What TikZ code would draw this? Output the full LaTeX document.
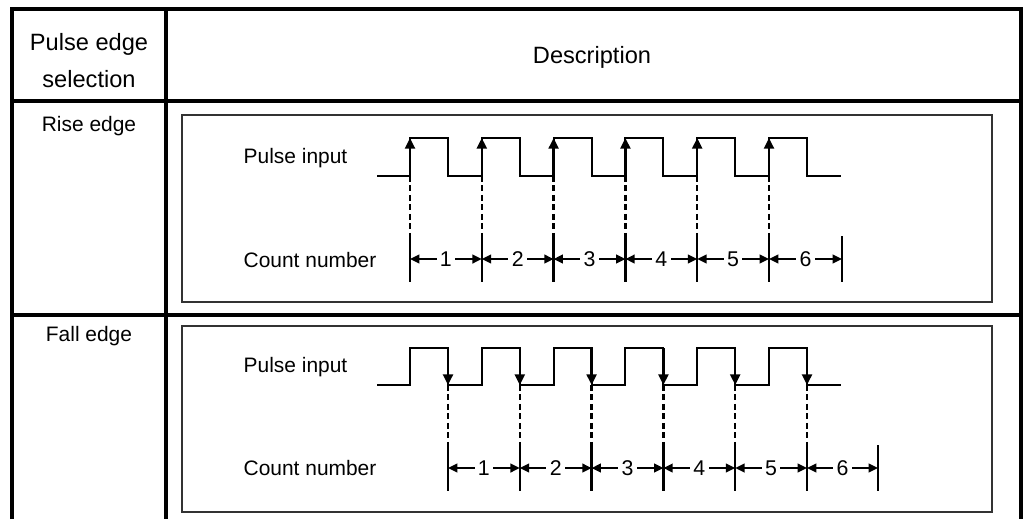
\documentclass[tikz,border=0pt]{standalone}
\usepackage{fontspec}
\setmainfont{Liberation Sans}
\usetikzlibrary{arrows.meta}

\tikzset{
  frame/.style={line width=3.4pt},
  rule/.style={line width=2.4pt},
  panel/.style={draw=black!80,line width=1.2pt},
  wave/.style={line width=1.6pt},
  edge/.style={line width=1.7pt,-{Triangle[length=8pt,width=7.5pt]}},
  guide/.style={line width=1.8pt,dash pattern=on 4.5pt off 2.6pt},
  tick/.style={line width=1.8pt},
  span/.style={line width=1.5pt,{Triangle[length=7pt,width=6.5pt]}-{Triangle[length=7pt,width=6.5pt]}},
  head/.style={font=\fontsize{17.7}{27.7}\selectfont,align=center},
  txt/.style={font=\fontsize{15.7}{18}\selectfont},
  num/.style={font=\fontsize{16}{18}\selectfont,fill=white,inner xsep=2.5pt,inner ysep=0pt}
}

\begin{document}
\begin{tikzpicture}[x=0.75pt,y=-0.75pt]
\useasboundingbox (0,0) rectangle (1027,519);

% table
\draw[frame] (12,519) -- (12,9) -- (1021,9) -- (1021,519);
\draw[line width=3pt] (12,101) -- (1021,101);
\draw[rule] (12,315) -- (1021,315);
\draw[rule] (166,9) -- (166,519);
\node[head] (hsel) at (89,61) {Pulse edge\\selection};
\node[head] (hdesc) at (592,57) {Description};
\node[txt] (rise) at (89,126) {Rise edge};
\node[txt] (fall) at (89,336) {Fall edge};

% rise edge panel
\draw[panel] (182,115) rectangle (992,302);
\node[txt,anchor=west] (rin) at (239,158) {Pulse input};
\node[txt,anchor=west] (rcnt) at (239,260) {Count number};
\draw[wave] (377,176) \foreach \k in {0,...,5} {
  -- ({410+71.8*\k},176) -- ({410+71.8*\k},138)
  -- ({448+71.8*\k},138) -- ({448+71.8*\k},176) } -- (841,176);
\foreach \k in {0,...,5} {
  \coordinate (rl\k) at ({410+71.8*\k},176);
  \coordinate (rh\k) at ({410+71.8*\k},138);
  \coordinate (rc\k) at ({410+71.8*\k},259);
}
\coordinate (rc6) at (842,259);
\foreach \k in {0,...,5} {
  \draw[edge] (rl\k) -- (rh\k);
  \draw[guide] (rl\k) -- ([yshift=17.25pt]rc\k);
}
\foreach \k in {0,...,6}
  \draw[tick] ([yshift=17.25pt]rc\k) -- ([yshift=-17.25pt]rc\k);
\foreach \k [count=\n from 1] in {0,...,5}
  \draw[span] (rc\k) -- node[num] {\n} (rc\n);

% fall edge panel
\draw[panel] (182,326) rectangle (992,512);
\node[txt,anchor=west] (fin) at (239,367) {Pulse input};
\node[txt,anchor=west] (fcnt) at (239,468) {Count number};
\draw[wave] (377,385) \foreach \k in {0,...,5} {
  -- ({410+71.8*\k},385) -- ({410+71.8*\k},348)
  -- ({448+71.8*\k},348) -- ({448+71.8*\k},385) } -- (841,385);
\foreach \k in {0,...,5} {
  \coordinate (fh\k) at ({448+71.8*\k},348);
  \coordinate (fl\k) at ({448+71.8*\k},385);
  \coordinate (fc\k) at ({448+71.8*\k},468);
}
\coordinate (fc6) at (878,468);
\foreach \k in {0,...,5} {
  \draw[edge] (fh\k) -- (fl\k);
  \draw[guide] (fl\k) -- ([yshift=17.25pt]fc\k);
}
\foreach \k in {0,...,6}
  \draw[tick] ([yshift=17.25pt]fc\k) -- ([yshift=-17.25pt]fc\k);
\foreach \k [count=\n from 1] in {0,...,5}
  \draw[span] (fc\k) -- node[num] {\n} (fc\n);
\end{tikzpicture}
\end{document}
